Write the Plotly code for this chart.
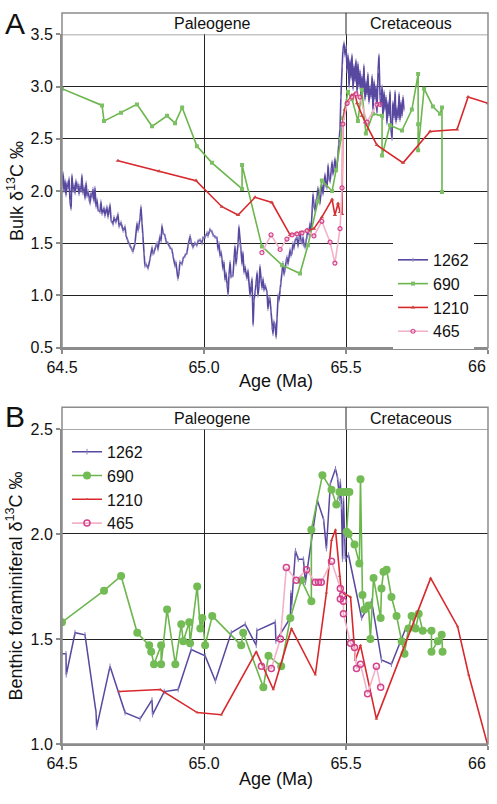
import plotly.graph_objects as go

# ---------------- Panel A: bulk carbonate d13C ----------------
AGE_1262_A = [
    64.500, 64.504, 64.507, 64.511, 64.514, 64.518, 64.521, 64.525, 64.528, 64.532,
    64.535, 64.539, 64.542, 64.546, 64.549, 64.553, 64.556, 64.560, 64.563, 64.567,
    64.570, 64.574, 64.577, 64.581, 64.585, 64.588, 64.592, 64.595, 64.599, 64.602,
    64.606, 64.609, 64.613, 64.616, 64.620, 64.623, 64.627, 64.634, 64.637, 64.641,
    64.648, 64.651, 64.658, 64.662, 64.669, 64.673, 64.680, 64.683, 64.690, 64.697,
    64.701, 64.708, 64.715, 64.722, 64.725, 64.732, 64.739, 64.746, 64.750, 64.757,
    64.764, 64.768, 64.771, 64.775, 64.778, 64.782, 64.785, 64.789, 64.792, 64.796,
    64.803, 64.810, 64.817, 64.820, 64.824, 64.831, 64.835, 64.838, 64.845, 64.849,
    64.852, 64.856, 64.863, 64.866, 64.873, 64.880, 64.887, 64.891, 64.898, 64.901,
    64.908, 64.912, 64.915, 64.923, 64.926, 64.933, 64.940, 64.944, 64.951, 64.954,
    64.961, 64.968, 64.975, 64.979, 64.986, 64.993, 64.996, 65.004, 65.011, 65.014,
    65.021, 65.028, 65.032, 65.039, 65.046, 65.049, 65.053, 65.056, 65.060, 65.063,
    65.067, 65.070, 65.074, 65.077, 65.081, 65.085, 65.088, 65.092, 65.095, 65.102,
    65.106, 65.109, 65.113, 65.116, 65.120, 65.123, 65.127, 65.130, 65.134, 65.137,
    65.141, 65.144, 65.151, 65.155, 65.162, 65.165, 65.169, 65.173, 65.176, 65.180,
    65.183, 65.187, 65.190, 65.194, 65.197, 65.201, 65.204, 65.208, 65.211, 65.215,
    65.222, 65.225, 65.229, 65.232, 65.236, 65.239, 65.243, 65.246, 65.250, 65.254,
    65.257, 65.261, 65.264, 65.268, 65.271, 65.275, 65.278, 65.282, 65.285, 65.289,
    65.292, 65.296, 65.303, 65.306, 65.310, 65.313, 65.317, 65.320, 65.327, 65.331,
    65.335, 65.338, 65.342, 65.345, 65.349, 65.352, 65.356, 65.359, 65.363, 65.366,
    65.370, 65.373, 65.377, 65.380, 65.384, 65.387, 65.391, 65.394, 65.398, 65.401,
    65.405, 65.408, 65.412, 65.415, 65.419, 65.423, 65.426, 65.430, 65.433, 65.437,
    65.440, 65.444, 65.447, 65.451, 65.454, 65.458, 65.461, 65.465, 65.468, 65.472,
    65.475, 65.479, 65.482, 65.486, 65.489, 65.493, 65.496, 65.500, 65.504, 65.507,
    65.511, 65.514, 65.518, 65.521, 65.525, 65.528, 65.532, 65.535, 65.539, 65.542,
    65.546, 65.549, 65.553, 65.556, 65.560, 65.563, 65.567, 65.570, 65.574, 65.577,
    65.581, 65.585, 65.588, 65.592, 65.595, 65.599, 65.602, 65.606, 65.609, 65.613,
    65.616, 65.620, 65.623, 65.627, 65.630, 65.634, 65.637, 65.641, 65.644, 65.648,
    65.651, 65.655, 65.658, 65.662, 65.665, 65.669, 65.673, 65.676, 65.680, 65.683,
    65.687, 65.690, 65.694, 65.697, 65.701, 65.704,
]
D13C_1262_A = [
    2.05, 2.17, 2.00, 2.10, 1.96, 2.08, 2.02, 2.12, 1.90, 1.83,
    2.15, 2.00, 2.06, 1.98, 2.10, 2.02, 2.07, 1.97, 2.05, 2.00,
    2.15, 1.98, 2.04, 1.93, 2.08, 1.95, 2.00, 1.92, 1.88, 1.98,
    1.94, 2.02, 1.90, 2.03, 1.85, 1.92, 1.82, 1.80, 1.90, 1.78,
    1.84, 1.76, 1.85, 1.75, 1.87, 1.72, 1.68, 1.75, 1.70, 1.78,
    1.66, 1.70, 1.62, 1.66, 1.58, 1.52, 1.48, 1.44, 1.42, 1.50,
    1.69, 1.62, 1.66, 1.74, 1.85, 1.70, 1.58, 1.40, 1.28, 1.30,
    1.26, 1.35, 1.46, 1.40, 1.41, 1.48, 1.50, 1.44, 1.57, 1.52,
    1.67, 1.60, 1.57, 1.52, 1.50, 1.46, 1.44, 1.38, 1.28, 1.32,
    1.16, 1.22, 1.32, 1.30, 1.35, 1.38, 1.41, 1.48, 1.57, 1.52,
    1.46, 1.50, 1.48, 1.52, 1.53, 1.50, 1.55, 1.56, 1.60, 1.57,
    1.63, 1.61, 1.58, 1.56, 1.55, 1.44, 1.50, 1.38, 1.42, 1.35,
    1.25, 1.32, 1.15, 1.22, 1.10, 1.01, 1.20, 1.32, 1.18, 1.19,
    1.35, 1.47, 1.30, 1.38, 1.50, 1.66, 1.48, 1.44, 1.30, 1.41,
    1.22, 1.28, 1.16, 1.24, 1.00, 1.10, 1.16, 0.72, 0.95, 1.03,
    1.12, 1.22, 1.00, 1.10, 1.28, 1.15, 1.07, 1.16, 1.05, 1.10,
    1.03, 0.87, 0.98, 0.97, 0.85, 0.69, 0.63, 0.75, 0.72, 0.60,
    0.78, 1.00, 0.95, 1.06, 1.12, 1.22, 1.31, 1.20, 1.25, 1.33,
    1.37, 1.30, 1.44, 1.38, 1.41, 1.50, 1.45, 1.52, 1.56, 1.47,
    1.55, 1.60, 1.52, 1.50, 1.56, 1.48, 1.46, 1.52, 1.56, 1.63,
    1.58, 1.69, 1.62, 1.84, 1.97, 1.86, 1.81, 1.90, 1.94, 2.03,
    1.92, 1.88, 1.98, 2.06, 1.97, 2.08, 2.16, 2.05, 2.03, 2.25,
    2.12, 2.09, 2.20, 2.28, 2.16, 2.22, 2.31, 2.20, 2.22, 2.35,
    2.45, 2.60, 2.90, 3.20, 3.35, 3.42, 3.30, 3.38, 3.15, 3.30,
    3.00, 3.25, 3.08, 3.30, 2.98, 3.20, 3.05, 3.25, 2.95, 3.22,
    3.00, 3.15, 2.90, 3.10, 2.95, 3.20, 2.88, 3.05, 2.92, 3.12,
    2.85, 3.00, 2.90, 3.10, 2.78, 3.05, 2.88, 3.00, 2.75, 3.15,
    3.30, 2.90, 2.82, 3.00, 2.70, 2.95, 2.78, 2.90, 2.65, 2.85,
    2.72, 2.95, 2.60, 2.50, 2.85, 2.70, 2.95, 2.66, 2.80, 2.70,
    2.93, 2.68, 2.85, 2.72, 2.90, 2.78,
]

AGE_690_A = [64.500, 64.641, 64.648, 64.708, 64.764, 64.817, 64.870, 64.898, 64.923, 64.975,
             65.028, 65.134, 65.134, 65.204, 65.275, 65.338, 65.366, 65.401, 65.415, 65.451,
             65.465, 65.482, 65.489, 65.507, 65.521, 65.542, 65.556, 65.570, 65.595, 65.627,
             65.627, 65.655, 65.697, 65.732, 65.754, 65.754, 65.754, 65.775, 65.806, 65.831,
             65.838, 65.838]
D13C_690_A = [2.98, 2.82, 2.67, 2.75, 2.83, 2.62, 2.72, 2.65, 2.80, 2.43,
              2.27, 2.02, 2.25, 1.47, 1.29, 1.21, 1.48, 1.90, 2.10, 2.00,
              2.20, 2.50, 2.70, 2.95, 2.88, 2.67, 2.97, 2.55, 2.74, 2.72,
              2.34, 2.63, 2.58, 2.78, 3.12, 2.64, 2.39, 2.98, 2.81, 2.74,
              2.80, 1.99]

AGE_1210_A = [64.697, 64.842, 64.972, 65.063, 65.120, 65.180, 65.239, 65.303, 65.338, 65.363,
              65.387, 65.415, 65.451, 65.461, 65.472, 65.479, 65.486, 65.489, 65.496, 65.507,
              65.521, 65.532, 65.539, 65.556, 65.567, 65.609, 65.701, 65.796, 65.891, 65.930,
              66.000]
D13C_1210_A = [2.29, 2.19, 2.10, 1.85, 1.77, 1.94, 1.89, 1.58, 1.60, 1.62,
               1.64, 1.75, 1.92, 1.77, 1.88, 1.80, 1.78, 2.66, 2.78, 2.86,
               2.92, 2.93, 2.84, 2.72, 2.66, 2.44, 2.27, 2.57, 2.59, 2.90,
               2.84]

AGE_465_A = [65.204, 65.236, 65.268, 65.292, 65.310, 65.327, 65.345, 65.363, 65.387, 65.415,
             65.444, 65.461, 65.479, 65.486, 65.489, 65.504, 65.521, 65.535, 65.549, 65.574,
             65.609, 65.620]
D13C_465_A = [1.41, 1.58, 1.44, 1.54, 1.58, 1.59, 1.60, 1.62, 1.57, 1.71,
              1.51, 1.31, 1.64, 2.03, 2.64, 2.84, 2.90, 2.93, 2.90, 2.66,
              2.83, 2.83]

# ---------------- Panel B: benthic foraminiferal d13C ----------------
AGE_1262_B = [64.500, 64.514, 64.515, 64.546, 64.581, 64.620, 64.622, 64.669, 64.722, 64.775,
              64.817, 64.819, 64.860, 64.909, 64.955, 65.004, 65.040, 65.096, 65.145, 65.184,
              65.186, 65.251, 65.253, 65.304, 65.306, 65.308, 65.322, 65.332, 65.350, 65.357,
              65.399, 65.421, 65.431, 65.445, 65.463, 65.470, 65.477, 65.480, 65.484, 65.488,
              65.491, 65.495, 65.498, 65.509, 65.555, 65.590, 65.625, 65.660, 65.710]
D13C_1262_B = [1.43, 1.43, 1.33, 1.53, 1.52, 1.15, 1.08, 1.37, 1.15, 1.12,
               1.21, 1.14, 1.25, 1.26, 1.45, 1.42, 1.30, 1.53, 1.57, 1.47,
               1.54, 1.58, 1.49, 1.60, 1.72, 1.65, 1.92, 1.88, 1.88, 1.77,
               2.16, 2.07, 1.93, 2.24, 2.31, 2.27, 2.17, 2.25, 2.13, 1.88,
               2.17, 1.99, 1.88, 1.90, 1.60, 1.68, 1.40, 1.38, 1.55]

AGE_690_B = [64.500, 64.648, 64.708, 64.765, 64.807, 64.814, 64.824, 64.849, 64.849, 64.870,
             64.899, 64.920, 64.927, 64.948, 64.951, 64.976, 64.987, 64.994, 65.004, 65.029,
             65.131, 65.138, 65.209, 65.227, 65.272, 65.304, 65.343, 65.378, 65.378, 65.417,
             65.449, 65.466, 65.477, 65.491, 65.502, 65.512, 65.502, 65.509, 65.530, 65.547,
             65.551, 65.558, 65.565, 65.579, 65.586, 65.597, 65.622, 65.625, 65.632, 65.643,
             65.660, 65.678, 65.696, 65.706, 65.720, 65.731, 65.745, 65.756, 65.770, 65.801,
             65.801, 65.823, 65.837, 65.840]
D13C_690_B = [1.58, 1.73, 1.80, 1.53, 1.47, 1.44, 1.38, 1.47, 1.38, 1.64,
              1.38, 1.57, 1.49, 1.58, 1.48, 1.75, 1.55, 1.60, 1.47, 1.61,
              1.47, 1.53, 1.27, 1.42, 1.37, 1.60, 1.78, 1.68, 2.02, 2.28,
              2.21, 2.14, 2.20, 2.20, 2.20, 2.20, 2.01, 2.00, 1.95, 1.86,
              2.26, 1.71, 1.64, 1.66, 1.50, 1.79, 1.60, 1.74, 1.82, 1.83,
              1.70, 1.61, 1.49, 1.43, 1.55, 1.61, 1.55, 1.62, 1.54, 1.54,
              1.44, 1.49, 1.52, 1.44]

AGE_1210_B = [64.701, 64.846, 64.976, 65.061, 65.184, 65.244, 65.308, 65.392, 65.431, 65.449,
              65.463, 65.477, 65.484, 65.502, 65.516, 65.533, 65.551, 65.607, 65.798, 65.893,
              65.932, 66.000]
D13C_1210_B = [1.25, 1.26, 1.15, 1.14, 1.44, 1.26, 1.55, 1.33, 1.72, 1.97,
               2.02, 1.80, 1.72, 1.71, 1.70, 1.40, 1.47, 1.12, 1.79, 1.56,
               1.33, 0.99]

AGE_465_B = [65.202, 65.237, 65.269, 65.290, 65.325, 65.361, 65.392, 65.403, 65.413, 65.449,
             65.480, 65.488, 65.480, 65.491, 65.491, 65.516, 65.530, 65.537, 65.551, 65.576,
             65.607, 65.622]
D13C_465_B = [1.37, 1.36, 1.50, 1.84, 1.78, 1.83, 1.77, 1.77, 1.77, 1.87,
              1.74, 1.71, 1.69, 1.68, 1.62, 1.48, 1.46, 1.36, 1.38, 1.24,
              1.37, 1.27]

X_TICKS = [64.5, 65.0, 65.5, 66.0]
X_TICK_TEXT = ["64.5", "65.0", "65.5", ""]   # "66" is placed as a right-aligned label
LAST_X_LABEL = "66"
SITE_NAMES = ["1262", "690", "1210", "465"]

# ---------------- styling ----------------
W, H = 497, 804
ML, MR = 62, 9
PW = W - ML - MR
FONT = "Liberation Sans, Arial, sans-serif"

PURPLE = "#58489f"
GREEN = "#6cb64e"
RED = "#d8282d"
PINK = "#f3b2c9"
MAGENTA = "#d2428d"
FRAME = "#8c8c8c"
GRID = "#222222"


def py(p):
    return 1 - p / H


def px(p):
    return (p - ML) / PW


A_BOT, A_TOP, A_HDR = 347, 27, 5
B_BOT, B_TOP, B_HDR = 752, 430, 408

fig = go.Figure()


def add(x, y, name, xa, ya, legend, color, width, msym, msize, mcolor, mline=None, lcolor=None):
    marker = dict(symbol=msym, size=msize, color=mcolor)
    if mline is not None:
        marker["line"] = dict(width=mline, color=lcolor or mcolor)
    fig.add_trace(go.Scatter(
        x=x, y=y, name=name, mode="lines+markers", xaxis=xa, yaxis=ya, legend=legend,
        line=dict(color=color, width=width), marker=marker, cliponaxis=True,
    ))


# Panel A
add(AGE_1262_A, D13C_1262_A, SITE_NAMES[0], "x", "y", "legend", PURPLE, 1.6,
    "line-ns-open", 3, "#9a92c8", 1, "#9a92c8")
add(AGE_690_A, D13C_690_A, SITE_NAMES[1], "x", "y", "legend", GREEN, 1.6,
    "square", 4, "#7cbf64")
add(AGE_1210_A, D13C_1210_A, SITE_NAMES[2], "x", "y", "legend", RED, 1.6,
    "triangle-up", 4, "#c9443f")
add(AGE_465_A, D13C_465_A, SITE_NAMES[3], "x", "y", "legend", PINK, 1.6,
    "circle-open", 4, MAGENTA, 1.2, MAGENTA)

# Panel B
add(AGE_1262_B, D13C_1262_B, SITE_NAMES[0], "x2", "y2", "legend2", PURPLE, 1.5,
    "line-ns-open", 4, "#8a82c0", 1, "#8a82c0")
add(AGE_690_B, D13C_690_B, SITE_NAMES[1], "x2", "y2", "legend2", GREEN, 1.6,
    "circle", 8, "#72bb55")
add(AGE_1210_B, D13C_1210_B, SITE_NAMES[2], "x2", "y2", "legend2", RED, 1.6,
    "triangle-up", 3, "#c9443f")
add(AGE_465_B, D13C_465_B, SITE_NAMES[3], "x2", "y2", "legend2", PINK, 1.6,
    "circle-open", 6, MAGENTA, 1.5, MAGENTA)

xcommon = dict(range=[64.5, 66.0], tickvals=X_TICKS, ticktext=X_TICK_TEXT,
               showgrid=True, gridcolor=GRID, gridwidth=1, zeroline=False,
               showline=True, linecolor=FRAME, linewidth=2, ticks="outside",
               ticklen=4, tickwidth=1.5, tickcolor=FRAME,
               tickfont=dict(family=FONT, size=16, color="#111"), domain=[0, 1])
ycommon = dict(showgrid=True, gridcolor=GRID, gridwidth=1, zeroline=False,
               showline=True, linecolor=FRAME, linewidth=2, ticks="outside",
               ticklen=4, tickwidth=1.5, tickcolor=FRAME,
               tickfont=dict(family=FONT, size=16, color="#111"))

fig.update_layout(
    width=W, height=H,
    margin=dict(l=ML, r=MR, t=0, b=0),
    paper_bgcolor="white", plot_bgcolor="white",
    showlegend=True,
    xaxis=dict(anchor="y", **xcommon),
    yaxis=dict(anchor="x", domain=[py(A_BOT), py(A_TOP)], range=[0.5, 3.5],
               tickvals=[0.5, 1.0, 1.5, 2.0, 2.5, 3.0, 3.5],
               ticktext=["0.5", "1.0", "1.5", "2.0", "2.5", "3.0", "3.5"], **ycommon),
    xaxis2=dict(anchor="y2", **xcommon),
    yaxis2=dict(anchor="x2", domain=[py(B_BOT), py(B_TOP)], range=[1.0, 2.5],
                tickvals=[1.0, 1.5, 2.0, 2.5], ticktext=["1.0", "1.5", "2.0", "2.5"], **ycommon),
    legend=dict(x=px(393), y=py(240), xanchor="left", yanchor="top",
                bgcolor="white", borderwidth=0,
                font=dict(family=FONT, size=16, color="#111"), tracegroupgap=0),
    legend2=dict(x=px(67), y=py(436), xanchor="left", yanchor="top",
                 bgcolor="rgba(255,255,255,0)", borderwidth=0,
                 font=dict(family=FONT, size=16, color="#111"), tracegroupgap=0),
)

shapes = []
for xr, yr, bot, top, hdr, ytop in [("x", "y", A_BOT, A_TOP, A_HDR, 3.5),
                                    ("x2", "y2", B_BOT, B_TOP, B_HDR, 2.5)]:
    shapes.append(dict(type="rect", xref=f"{xr} domain", yref="paper",
                       x0=0, x1=1, y0=py(bot), y1=py(hdr),
                       line=dict(color=FRAME, width=1.5), layer="above"))
    shapes.append(dict(type="line", xref=f"{xr} domain", yref=yr,
                       x0=0, x1=1, y0=ytop, y1=ytop,
                       line=dict(color=FRAME, width=1.5), layer="above"))
    shapes.append(dict(type="line", xref=xr, yref="paper",
                       x0=65.5, x1=65.5, y0=py(top), y1=py(hdr),
                       line=dict(color=GRID, width=1), layer="above"))
fig.update_layout(shapes=shapes)

ann = []


def text(x, y, s, size, xref="paper", angle=0, xanchor="center"):
    ann.append(dict(x=x, y=y, xref=xref, yref="paper", text=s, showarrow=False,
                    textangle=angle, xanchor=xanchor, yanchor="middle",
                    font=dict(family=FONT, size=size, color="#111")))


# header labels
text(65.03, py(16), "Paleogene", 16, xref="x")
text(65.73, py(16), "Cretaceous", 16, xref="x")
text(65.03, py(419), "Paleogene", 16, xref="x2")
text(65.73, py(419), "Cretaceous", 16, xref="x2")
# right-most x tick labels ("66"), right-aligned at the axis end
text(1.0, py(366), LAST_X_LABEL, 16, xanchor="right")
text(1.0, py(772), LAST_X_LABEL, 16, xanchor="right")
# panel letters
text(px(15), py(16), "A", 30)
text(px(15), py(417), "B", 30)
# axis titles
text(px(276), py(381), "Age (Ma)", 18)
text(px(276), py(788), "Age (Ma)", 18)
text(px(15), py(187), "Bulk δ<sup>13</sup>C ‰", 18, angle=-90)
text(px(15), py(591), "Benthic foraminiferal δ<sup>13</sup>C ‰", 18, angle=-90)
fig.update_layout(annotations=ann)

fig.write_html("out.html", config={"displayModeBar": False},
               post_script="document.body.style.margin='0';")
